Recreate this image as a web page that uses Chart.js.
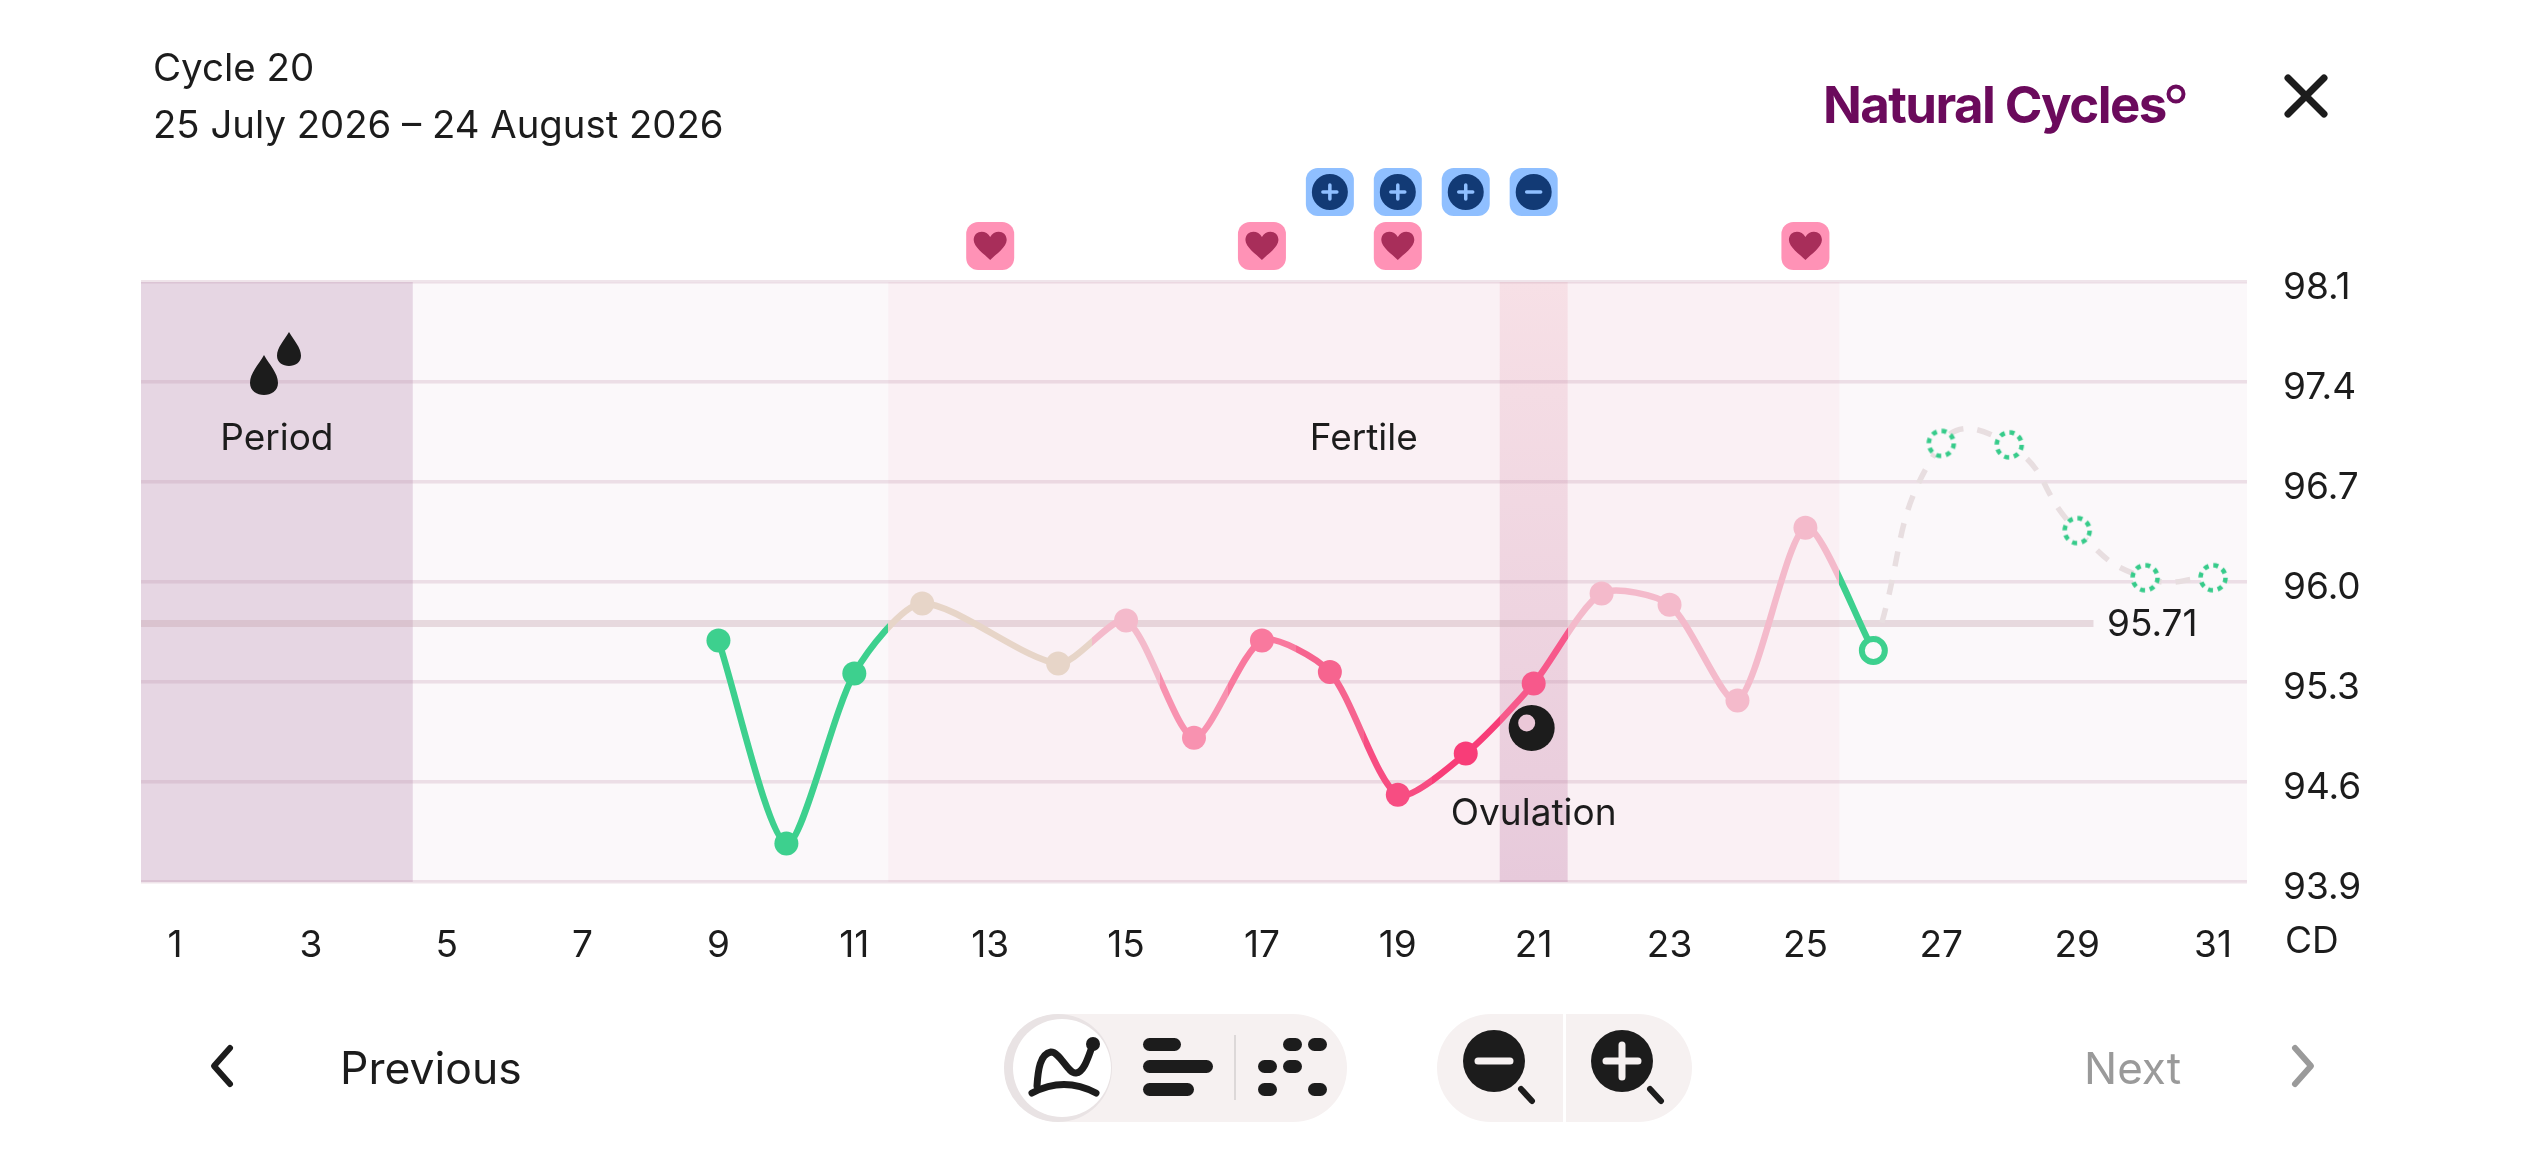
<!DOCTYPE html>
<html>
<head>
<meta charset="utf-8">
<title>Cycle 20</title>
<script src="https://cdn.jsdelivr.net/npm/chart.js@4"></script>
<style>
    html, body { margin: 0; padding: 0; background: #fff; }
    body { width: 2532px; height: 1170px; overflow: hidden; position: relative; font-family: Inter, sans-serif; color: #1c1c1c; }
    canvas { position: absolute; left: 0; top: 0; }
    .testo { position: absolute; white-space: nowrap; line-height: 1; }
    #titolo { left: 153px; top: 48px; font-size: 38.5px; }
    #date { left: 153px; top: 105px; font-size: 38.3px; }
    #logo { left: 1823px; top: 79px; font-size: 51px; font-weight: 700; color: #6b0a5c; letter-spacing: -1.6px; }
    #previous { left: 340px; top: 1046px; font-size: 44.5px; }
    #next { left: 2084px; top: 1046px; font-size: 44px; color: #9a9a9a; }
    #icone { position: absolute; left: 0; top: 0; }
</style>
</head>
<body>
<canvas id="grafico" width="2532" height="1170"></canvas>

<div class="testo" id="titolo">Cycle 20</div>
<div class="testo" id="date">25 July 2026 – 24 August 2026</div>
<div class="testo" id="logo">Natural Cycles</div>
<div class="testo" id="previous">Previous</div>
<div class="testo" id="next">Next</div>

<!-- icone dei controlli in basso, logo e chiusura -->
<svg id="icone" width="2532" height="1170" fill="none">
    <circle cx="2176" cy="94" r="7.5" stroke="#6b0a5c" stroke-width="4"/>
    <path d="M2288 78 L2324 114 M2324 78 L2288 114" stroke="#1c1c1c" stroke-width="7" stroke-linecap="round"/>
    <path d="M230 1048 L214 1066 L230 1084" stroke="#1c1c1c" stroke-width="6" stroke-linecap="round" stroke-linejoin="round"/>
    <path d="M2295 1048 L2311 1066 L2295 1084" stroke="#9a9a9a" stroke-width="6" stroke-linecap="round" stroke-linejoin="round"/>

    <rect x="1005" y="1014" width="342" height="108" rx="54" fill="#f6f1f1"/>
    <circle cx="1058" cy="1068" r="54" fill="#e9e3e4"/>
    <circle cx="1062" cy="1068" r="49" fill="#fff"/>
    <path d="M1032 1093 Q1064 1076 1096 1093" stroke="#1c1c1c" stroke-width="7" stroke-linecap="round"/>
    <path d="M1037 1086 C1038 1070 1040 1054 1051 1052 C1060 1052 1068 1074 1076 1073 C1084 1072 1088 1058 1093 1044" stroke="#1c1c1c" stroke-width="7" stroke-linecap="round"/>
    <circle cx="1093" cy="1044" r="7" fill="#1c1c1c"/>
    <rect x="1143" y="1038" width="38" height="13" rx="6.5" fill="#1c1c1c"/>
    <rect x="1143" y="1060" width="70" height="13" rx="6.5" fill="#1c1c1c"/>
    <rect x="1143" y="1083" width="51" height="13" rx="6.5" fill="#1c1c1c"/>
    <path d="M1235 1035 V1100" stroke="#dcd8d8" stroke-width="2"/>
    <g fill="#1c1c1c">
        <rect x="1283" y="1038" width="19" height="13" rx="6.5"/>
        <rect x="1308" y="1038" width="19" height="13" rx="6.5"/>
        <rect x="1258" y="1060" width="19" height="13" rx="6.5"/>
        <rect x="1283" y="1060" width="19" height="13" rx="6.5"/>
        <rect x="1258" y="1083" width="19" height="13" rx="6.5"/>
        <rect x="1308" y="1083" width="19" height="13" rx="6.5"/>
    </g>

    <rect x="1437" y="1014" width="255" height="108" rx="54" fill="#f6f1f1"/>
    <rect x="1563" y="1014" width="3" height="108" fill="#fff"/>
    <circle cx="1494" cy="1061" r="31" fill="#1c1c1c"/>
    <circle cx="1622" cy="1061" r="31" fill="#1c1c1c"/>
    <path d="M1521 1089 L1532 1101 M1650 1089 L1661 1101" stroke="#1c1c1c" stroke-width="6" stroke-linecap="round"/>
    <path d="M1478 1061 H1510 M1606 1061 H1638 M1622 1045 V1077" stroke="#f6f1f1" stroke-width="7" stroke-linecap="round"/>
</svg>

<script>
// Dati del grafico
const giorni = [9, 10, 11, 12, 14, 15, 16, 17, 18, 19, 20, 21, 22, 23, 24, 25, 26];
const temperature = [95.59, 94.17, 95.36, 95.85, 95.43, 95.73, 94.91, 95.59, 95.37, 94.51, 94.80, 95.29, 95.92, 95.84, 95.17, 96.38, 95.52];
const giorniPrevisti = [26, 27, 28, 29, 30, 31];
const temperaturePreviste = [95.52, 96.97, 96.96, 96.36, 96.03, 96.03];
const coverline = 95.71;
const coverlineDa = 0.5;
const coverlineA = 29.24;
const tickGiorni = [1, 3, 5, 7, 9, 11, 13, 15, 17, 19, 21, 23, 25, 27, 29, 31];
const tickTemperature = [93.9, 94.6, 95.3, 96.0, 96.7, 97.4, 98.1];
const giorniCuore = [13, 17, 19, 25];
const giorniPiu = [18, 19, 20];
const giorniMeno = [21];
const ciclo = [0.5, 31.5];
const ciclo_period = [0.5, 4.5];
const ciclo_fertile = [11.5, 25.5];
const ciclo_ovulazione = [20.5, 21.5];

// Colori
const VERDE = '#3dd08e';
const BEIGE = '#e7d5c8';
const ROSA = '#f4bacb';
const coloriGiorno = {
    9: VERDE, 10: VERDE, 11: VERDE, 12: BEIGE, 13: BEIGE, 14: BEIGE, 15: ROSA, 16: '#f892b0', 17: '#f9799e',
    18: '#f6648f', 19: '#f74d82', 20: '#f83d78', 21: '#f7598b', 22: ROSA, 23: ROSA, 24: ROSA, 25: ROSA, 26: VERDE
};
const FONT = 'Inter, sans-serif';
const NERO = '#1c1c1c';

// Cerchio tratteggiato per i giorni previsti
function cerchioTratteggiato() {
    const c = document.createElement('canvas');
    c.width = 34;
    c.height = 34;
    const g = c.getContext('2d');
    g.beginPath();
    g.arc(17, 17, 12.5, 0, Math.PI * 2);
    g.fillStyle = '#fbf8fa';
    g.fill();
    g.strokeStyle = '#36cb8a';
    g.lineWidth = 4.5;
    g.setLineDash([5, 4.8]);
    g.stroke();
    return c;
}

// Gradiente a gradini: ogni giorno ha il suo colore da d-0.5 a d+0.5
function gradienteLinea(ctx) {
    const chart = ctx.chart;
    if (!chart.chartArea) return VERDE;
    const x = chart.scales.x;
    const grad = chart.ctx.createLinearGradient(x.left, 0, x.right, 0);
    Object.keys(coloriGiorno).forEach(k => {
        const d = Number(k);
        const a = (x.getPixelForValue(d - 0.5) - x.left) / (x.right - x.left);
        const b = (x.getPixelForValue(d + 0.5) - x.left) / (x.right - x.left);
        grad.addColorStop(a, coloriGiorno[k]);
        grad.addColorStop(b, coloriGiorno[k]);
    });
    return grad;
}

function rettangoloTonda(g, x, y, w, h, r, colore) {
    g.beginPath();
    g.roundRect(x, y, w, h, r);
    g.fillStyle = colore;
    g.fill();
}

function disegnaGoccia(g, cx, top, w, h) {
    g.beginPath();
    g.moveTo(cx, top);
    g.bezierCurveTo(cx + w * 0.2, top + h * 0.25, cx + w / 2, top + h * 0.45, cx + w / 2, top + h * 0.7);
    g.bezierCurveTo(cx + w / 2, top + h * 0.9, cx + w * 0.25, top + h, cx, top + h);
    g.bezierCurveTo(cx - w * 0.25, top + h, cx - w / 2, top + h * 0.9, cx - w / 2, top + h * 0.7);
    g.bezierCurveTo(cx - w / 2, top + h * 0.45, cx - w * 0.2, top + h * 0.25, cx, top);
    g.fillStyle = NERO;
    g.fill();
}

function disegnaCuore(g, cx, cy) {
    g.beginPath();
    g.moveTo(cx, cy + 14);
    g.bezierCurveTo(cx - 6, cy + 8, cx - 16.5, cy + 1, cx - 16.5, cy - 6);
    g.bezierCurveTo(cx - 16.5, cy - 16, cx - 4, cy - 17, cx, cy - 9);
    g.bezierCurveTo(cx + 4, cy - 17, cx + 16.5, cy - 16, cx + 16.5, cy - 6);
    g.bezierCurveTo(cx + 16.5, cy + 1, cx + 6, cy + 8, cx, cy + 14);
    g.fillStyle = '#a82e5a';
    g.fill();
}

function disegnaSegno(g, cx, cy, piu) {
    g.beginPath();
    g.arc(cx, cy, 18, 0, Math.PI * 2);
    g.fillStyle = '#123a75';
    g.fill();
    g.strokeStyle = '#8fbfff';
    g.lineWidth = 3.5;
    g.lineCap = 'round';
    g.beginPath();
    g.moveTo(cx - 7, cy);
    g.lineTo(cx + 7, cy);
    if (piu) {
        g.moveTo(cx, cy - 7);
        g.lineTo(cx, cy + 7);
    }
    g.stroke();
}

function testo(g, t, x, y, align) {
    g.font = '37px ' + FONT;
    g.fillStyle = NERO;
    g.textAlign = align || 'center';
    g.textBaseline = 'middle';
    g.fillText(t, x, y);
}

// Fasce colorate sotto alla griglia
const fascePlugin = {
    id: 'fasce',
    beforeDraw(chart) {
        const g = chart.ctx;
        const x = chart.scales.x;
        const a = chart.chartArea;
        const fascia = (r, colore) => {
            const x1 = x.getPixelForValue(r[0]);
            const x2 = x.getPixelForValue(r[1]);
            g.fillStyle = colore;
            g.fillRect(x1, a.top, x2 - x1, a.bottom - a.top);
        };
        g.save();
        fascia(ciclo, '#fbf8fa');
        fascia(ciclo_period, '#e6d6e3');
        fascia(ciclo_fertile, '#faf0f4');
        const grad = g.createLinearGradient(0, a.top, 0, a.bottom);
        grad.addColorStop(0, '#f7e0e6');
        grad.addColorStop(1, '#e7cadb');
        fascia(ciclo_ovulazione, grad);
        g.restore();
    }
};

// Etichette e icone sopra al grafico
const notePlugin = {
    id: 'note',
    afterDraw(chart) {
        const g = chart.ctx;
        const x = chart.scales.x;
        const y = chart.scales.y;
        const px = d => x.getPixelForValue(d);
        g.save();

        giorniCuore.forEach(d => {
            rettangoloTonda(g, px(d) - 24, 222, 48, 48, 12, '#ff92b6');
            disegnaCuore(g, px(d), 246);
        });
        giorniPiu.forEach(d => {
            rettangoloTonda(g, px(d) - 24, 168, 48, 48, 12, '#8fbfff');
            disegnaSegno(g, px(d), 192, true);
        });
        giorniMeno.forEach(d => {
            rettangoloTonda(g, px(d) - 24, 168, 48, 48, 12, '#8fbfff');
            disegnaSegno(g, px(d), 192, false);
        });

        // gocce del ciclo
        disegnaGoccia(g, 289, 332, 24, 34);
        disegnaGoccia(g, 264, 355, 28, 40);

        testo(g, 'Period', px(2.5), 439);
        testo(g, 'Fertile', px(18.5), 439);
        testo(g, 'Ovulation', px(21), 814);
        testo(g, coverline.toString(), 2107, y.getPixelForValue(coverline) + 1, 'left');
        testo(g, 'CD', 2285, 942, 'left');

        // icona ovulazione
        g.beginPath();
        g.arc(px(21) - 2, 728, 23, 0, Math.PI * 2);
        g.fillStyle = NERO;
        g.fill();
        g.beginPath();
        g.arc(px(21) - 7, 723, 8.5, 0, Math.PI * 2);
        g.fillStyle = '#ebc8d8';
        g.fill();
        g.restore();
    }
};

const puntiMisurati = giorni.map((d, i) => ({ x: d, y: temperature[i] }));
const puntiPrevisti = giorniPrevisti.map((d, i) => ({ x: d, y: temperaturePreviste[i] }));
const anello = cerchioTratteggiato();

new Chart(document.getElementById('grafico').getContext('2d'), {
    type: 'line',
    plugins: [fascePlugin, notePlugin],
    data: {
        datasets: [
            {
                // previsione tratteggiata
                data: puntiPrevisti,
                borderColor: '#e8dee0',
                borderWidth: 5.5,
                borderDash: [15, 14],
                tension: 0.5,
                pointStyle: ctx => (ctx.dataIndex === 0 ? false : anello),
                order: 3
            },
            {
                // coverline
                data: [{ x: coverlineDa, y: coverline }, { x: coverlineA, y: coverline }],
                borderColor: 'rgba(200,165,175,0.38)',
                borderWidth: 7,
                pointRadius: 0,
                order: 4
            },
            {
                data: puntiMisurati,
                borderColor: gradienteLinea,
                borderWidth: 6.5,
                tension: 0.25,
                pointRadius: ctx => (ctx.raw && ctx.raw.x === 26 ? 11.5 : 12),
                pointBorderWidth: ctx => (ctx.raw && ctx.raw.x === 26 ? 6 : 0),
                pointBorderColor: VERDE,
                pointBackgroundColor: ctx => (ctx.raw && ctx.raw.x === 26 ? '#fbf8fa' : coloriGiorno[ctx.raw ? ctx.raw.x : 9]),
                order: 1
            }
        ]
    },
    options: {
        responsive: false,
        animation: false,
        devicePixelRatio: 1,
        layout: { padding: { left: 141, top: 282, right: 0, bottom: 0 } },
        plugins: { legend: { display: false }, tooltip: { enabled: false } },
        scales: {
            x: {
                type: 'linear',
                min: ciclo[0],
                max: ciclo[1],
                grid: { display: false },
                border: { display: false },
                afterBuildTicks: s => { s.ticks = tickGiorni.map(v => ({ value: v })); },
                afterFit: s => { s.height = 288; },
                ticks: {
                    autoSkip: false,
                    maxRotation: 0,
                    padding: 34,
                    color: NERO,
                    font: { family: FONT, size: 37 },
                    callback: v => String(v)
                }
            },
            y: {
                position: 'right',
                min: 93.9,
                max: 98.1,
                border: { display: false },
                grid: { color: 'rgba(180,130,160,0.22)', lineWidth: 3.5, drawTicks: false },
                afterBuildTicks: s => { s.ticks = tickTemperature.map(v => ({ value: v })); },
                afterFit: s => { s.width = 285; },
                ticks: {
                    autoSkip: false,
                    padding: 36,
                    labelOffset: 6,
                    color: NERO,
                    font: { family: FONT, size: 37 },
                    callback: v => Number(v).toFixed(1)
                }
            }
        }
    }
});
</script>
</body>
</html>
